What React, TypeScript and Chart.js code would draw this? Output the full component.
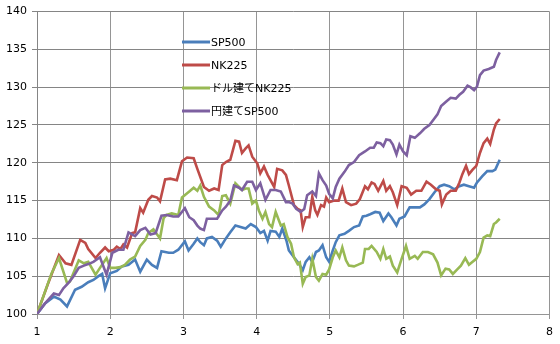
import React, { useEffect, useRef } from "react";
import { Chart, registerables } from "chart.js";

Chart.register(...registerables);

// ---- data ----
const seriesLabels = ["SP500", "NK225", "ドル建てNK225", "円建てSP500"];
const seriesColors = ["#4a7ebb", "#be4b48", "#98b954", "#7d60a0"];

const xTicks = [1, 2, 3, 4, 5, 6, 7, 8];
const yTicks = [100, 105, 110, 115, 120, 125, 130, 135, 140];

const sp500X = [1, 1.11, 1.23, 1.32, 1.41, 1.52, 1.61, 1.7, 1.77, 1.84, 1.89, 1.93, 2.0, 2.09, 2.16, 2.25, 2.34, 2.41, 2.5, 2.57, 2.64, 2.7, 2.8, 2.86, 2.93, 3.02,
  3.07, 3.14, 3.19, 3.23, 3.28, 3.32, 3.39, 3.46, 3.51, 3.58, 3.64, 3.71, 3.78, 3.85, 3.92, 3.99, 4.05, 4.1, 4.15, 4.19, 4.26, 4.31, 4.35, 4.41, 4.44, 4.51, 4.58, 4.63, 4.67, 4.72, 4.76, 4.81, 4.85, 4.9, 4.95, 4.99, 5.04, 5.08, 5.13, 5.2, 5.26, 5.33, 5.4,
  5.45, 5.5, 5.55, 5.62, 5.68, 5.73, 5.8, 5.84, 5.91, 5.95, 6.02, 6.09, 6.16, 6.23, 6.29, 6.36, 6.43, 6.5, 6.56, 6.63, 6.7, 6.77, 6.83, 6.9, 6.97, 7.01, 7.08, 7.15, 7.22, 7.26, 7.32];
const sp500Y = [100, 101.4, 102.3, 101.9, 101.0, 103.2, 103.6, 104.2, 104.5, 105.0, 105.3, 103.4, 105.4, 105.7, 106.3, 106.5, 107.2, 105.6, 107.2, 106.5, 106.1, 108.3, 108.1, 108.1, 108.5, 109.6,
  108.4, 109.3, 110.0, 109.5, 109.1, 110.0, 110.2, 109.7, 108.9, 110.0, 110.8, 111.7, 111.5, 111.3, 111.9, 111.5, 110.7, 111.0, 109.7, 111.0, 110.9, 110.2, 111.3, 109.6, 108.4, 107.5, 106.6, 105.8, 106.9, 107.5, 106.9, 108.2, 108.4, 109.1, 107.5, 106.9, 108.4, 109.5, 110.4, 110.6, 111.0, 111.5, 111.7,
  112.9, 113.0, 113.2, 113.5, 113.4, 112.3, 113.3, 112.8, 111.7, 112.6, 112.9, 114.1, 114.1, 114.1, 114.5, 115.2, 116.1, 116.9, 117.1, 116.9, 116.5, 116.9, 117.1, 116.9, 116.7, 117.4, 118.2, 118.9, 118.9, 119.1, 120.4];

const nk225X = [1, 1.15, 1.3, 1.39, 1.47, 1.59, 1.66, 1.7, 1.8, 1.86, 1.93, 1.98, 2.05, 2.09, 2.14, 2.18, 2.23, 2.3, 2.34, 2.41, 2.45, 2.52, 2.57, 2.64, 2.68, 2.75, 2.82, 2.91, 2.98, 3.05,
  3.14, 3.19, 3.28, 3.35, 3.42, 3.48, 3.53, 3.58, 3.64, 3.71, 3.76, 3.8, 3.85, 3.89, 3.94, 4.01, 4.05, 4.1, 4.15, 4.24, 4.28, 4.35, 4.4, 4.44, 4.51, 4.56, 4.6, 4.63, 4.67, 4.72, 4.76, 4.8, 4.83, 4.88, 4.92, 4.95, 4.99, 5.06, 5.12, 5.17, 5.22, 5.29, 5.36,
  5.41, 5.48, 5.52, 5.57, 5.61, 5.66, 5.73, 5.77, 5.82, 5.86, 5.92, 5.98, 6.05, 6.11, 6.18, 6.25, 6.32, 6.38, 6.45, 6.5, 6.53, 6.59, 6.65, 6.72, 6.77, 6.81, 6.86, 6.9, 6.95, 7.0, 7.05, 7.1, 7.15, 7.19, 7.24, 7.27, 7.32];
const nk225Y = [100, 104.0, 107.8, 106.7, 106.5, 109.8, 109.4, 108.6, 107.4, 108.1, 108.8, 108.3, 108.5, 108.9, 108.6, 109.2, 108.8, 110.7, 110.8, 114.0, 113.4, 115.1, 115.6, 115.4, 114.9, 117.8, 117.9, 117.7, 120.2, 120.7,
  120.6, 119.2, 116.8, 116.3, 116.6, 116.4, 119.7, 120.1, 120.4, 122.9, 122.8, 121.3, 121.9, 122.3, 120.8, 119.9, 118.6, 119.5, 118.4, 116.8, 119.2, 119.0, 118.4, 117.0, 114.4, 113.9, 113.7, 111.5, 112.8, 112.8, 115.5, 113.7, 113.1, 114.4, 114.2, 115.4, 114.8, 115.0, 115.0, 116.6, 114.8, 114.4, 114.6,
  115.2, 116.9, 116.5, 117.4, 117.2, 116.3, 117.6, 116.3, 116.9, 116.1, 114.4, 116.9, 116.7, 115.8, 116.3, 116.3, 117.5, 117.1, 116.5, 116.3, 114.5, 115.8, 116.3, 116.3, 117.4, 118.5, 119.6, 118.5, 119.1, 119.6, 121.3, 122.6, 123.2, 122.5, 124.4, 125.2, 125.8];

const usdNk225X = [1, 1.2, 1.3, 1.41, 1.45, 1.57, 1.64, 1.7, 1.8, 1.86, 1.95, 2.0, 2.07, 2.14, 2.2, 2.27, 2.34, 2.41, 2.48, 2.52, 2.59, 2.68, 2.73, 2.77, 2.84, 2.93, 2.98, 3.03,
  3.08, 3.14, 3.19, 3.23, 3.28, 3.35, 3.42, 3.48, 3.53, 3.58, 3.64, 3.71, 3.76, 3.8, 3.85, 3.89, 3.94, 3.99, 4.03, 4.08, 4.12, 4.17, 4.21, 4.26, 4.33, 4.37, 4.42, 4.47, 4.51, 4.56, 4.59, 4.63, 4.67, 4.72, 4.76, 4.81, 4.85, 4.9, 4.95, 4.99, 5.04, 5.08, 5.13, 5.17, 5.22, 5.26, 5.33, 5.38,
  5.45, 5.48, 5.53, 5.57, 5.64, 5.69, 5.73, 5.77, 5.82, 5.86, 5.92, 5.98, 6.04, 6.09, 6.16, 6.2, 6.27, 6.34, 6.41, 6.47, 6.52, 6.58, 6.63, 6.68, 6.74, 6.79, 6.85, 6.9, 6.95, 7.0, 7.05, 7.1, 7.15, 7.19, 7.24, 7.27, 7.32];
const usdNk225Y = [100, 105.4, 107.4, 104.1, 104.3, 107.1, 106.7, 106.9, 105.2, 106.1, 107.4, 106.1, 106.1, 106.2, 106.5, 107.2, 107.6, 109.0, 109.8, 110.7, 111.2, 110.0, 112.7, 113.1, 113.3, 113.1, 115.4, 115.8,
  116.2, 116.7, 116.3, 117.0, 115.5, 114.2, 113.7, 113.1, 115.6, 115.7, 114.6, 117.3, 116.8, 116.4, 116.6, 116.6, 114.6, 115.0, 113.7, 112.6, 113.5, 111.9, 111.5, 113.5, 111.7, 111.9, 110.2, 109.3, 107.5, 106.6, 106.8, 104.0, 104.9, 105.1, 107.3, 104.9, 104.4, 105.3, 105.2, 105.9, 107.5, 108.4, 107.5, 108.8, 107.1, 106.4, 106.3, 106.5,
  106.8, 108.6, 108.6, 109.0, 108.2, 107.3, 108.6, 107.3, 107.6, 106.4, 105.5, 107.3, 109.0, 107.3, 107.7, 107.3, 108.2, 108.2, 107.9, 106.8, 105.1, 106.0, 105.9, 105.3, 105.9, 106.4, 107.4, 106.5, 106.9, 107.3, 108.2, 110.1, 110.4, 110.3, 111.9, 112.1, 112.6];

const jpySp500X = [1, 1.11, 1.23, 1.3, 1.36, 1.43, 1.5, 1.57, 1.64, 1.7, 1.77, 1.86, 1.95, 2.03, 2.11, 2.18, 2.25, 2.34, 2.41, 2.48, 2.55, 2.62, 2.7, 2.77, 2.86, 2.93, 3.02,
  3.08, 3.14, 3.19, 3.23, 3.28, 3.32, 3.39, 3.46, 3.53, 3.58, 3.64, 3.69, 3.76, 3.8, 3.87, 3.94, 3.99, 4.05, 4.12, 4.19, 4.26, 4.33, 4.4, 4.44, 4.49, 4.54, 4.6, 4.65, 4.69, 4.76, 4.81, 4.85, 4.9, 4.95, 4.99, 5.04, 5.08, 5.13, 5.2, 5.26, 5.33, 5.4,
  5.48, 5.55, 5.6, 5.64, 5.69, 5.73, 5.77, 5.82, 5.86, 5.91, 5.95, 6.0, 6.05, 6.1, 6.16, 6.23, 6.29, 6.36, 6.43, 6.47, 6.52, 6.59, 6.65, 6.72, 6.77, 6.82, 6.88, 6.92, 6.97, 7.01, 7.05, 7.1, 7.17, 7.24, 7.27, 7.32];
const jpySp500Y = [100, 101.4, 102.7, 102.5, 103.4, 104.1, 105.0, 106.1, 106.4, 106.6, 106.9, 107.5, 105.2, 108.1, 108.5, 108.5, 110.8, 110.3, 111.1, 111.4, 110.5, 110.7, 113.0, 113.1, 112.9, 112.9, 114.0,
  112.8, 112.4, 111.7, 111.3, 111.1, 112.6, 112.6, 112.6, 113.7, 114.2, 115.0, 117.0, 116.7, 116.4, 117.5, 117.5, 116.4, 117.3, 115.1, 116.4, 116.4, 116.2, 114.8, 114.8, 114.6, 113.9, 113.5, 113.9, 115.7, 116.2, 115.6, 118.6, 117.7, 117.0, 115.9, 115.3, 116.8, 117.9, 118.8, 119.7, 120.1, 121.0,
  121.5, 122.0, 122.0, 122.7, 122.6, 122.2, 123.1, 123.0, 122.4, 121.1, 122.4, 121.5, 121.0, 123.5, 123.3, 123.9, 124.5, 125.0, 125.9, 126.4, 127.5, 128.1, 128.6, 128.5, 129.0, 129.4, 130.2, 130.0, 129.6, 130.1, 131.6, 132.2, 132.4, 132.7, 133.6, 134.6];

const seriesX = [sp500X, nk225X, usdNk225X, jpySp500X];
const seriesY = [sp500Y, nk225Y, usdNk225Y, jpySp500Y];

const FONT = "'DejaVu Sans', 'Noto Sans CJK JP', sans-serif";

const insideLegend = {
  id: "insideLegend",
  afterDatasetsDraw(chart: any) {
    const ctx = chart.ctx;
    ctx.save();
    chart.data.datasets.forEach((ds: any, i: number) => {
      const y = 42 + i * 23;
      ctx.strokeStyle = ds.borderColor;
      ctx.lineWidth = 3;
      ctx.lineCap = "butt";
      ctx.beginPath();
      ctx.moveTo(182, y);
      ctx.lineTo(210, y);
      ctx.stroke();
      ctx.fillStyle = "#000";
      ctx.font = `11px ${FONT}`;
      ctx.textBaseline = "middle";
      ctx.textAlign = "left";
      ctx.fillText(ds.label, 211, y + 1);
    });
    ctx.restore();
  },
};

export default function App() {
  const ref = useRef<HTMLCanvasElement | null>(null);

  useEffect(() => {
    if (!ref.current) return;
    const datasets = seriesLabels.map((label, s) => ({
      label,
      data: seriesX[s].map((x, i) => ({ x, y: seriesY[s][i] })),
      borderColor: seriesColors[s],
      backgroundColor: seriesColors[s],
      borderWidth: 2.6,
      pointRadius: 0,
      tension: 0,
      fill: false,
      order: 3 - s,
    }));
    const chart = new Chart(ref.current, {
      type: "line",
      data: { datasets },
      options: {
        animation: false,
        responsive: false,
        devicePixelRatio: 1,
        layout: { padding: { top: 10, right: 10, left: 0, bottom: 0 } },
        plugins: { legend: { display: false }, tooltip: { enabled: false } },
        scales: {
          x: {
            type: "linear",
            min: xTicks[0],
            max: xTicks[xTicks.length - 1],
            afterBuildTicks: (scale: any) => {
              scale.ticks = xTicks.map((v) => ({ value: v }));
            },
            afterFit: (scale: any) => {
              scale.height = 30;
            },
            ticks: { color: "#000", font: { family: FONT, size: 11 }, padding: 7, maxRotation: 0 },
            grid: { color: "#959595", tickLength: 5, lineWidth: 1 },
            border: { color: "#959595" },
          },
          y: {
            type: "linear",
            min: yTicks[0],
            max: yTicks[yTicks.length - 1],
            afterBuildTicks: (scale: any) => {
              scale.ticks = yTicks.map((v) => ({ value: v }));
            },
            afterFit: (scale: any) => {
              scale.width = 37;
            },
            ticks: { color: "#000", font: { family: FONT, size: 11 }, padding: 5 },
            grid: { color: "#858585", tickLength: 5, lineWidth: 1 },
            border: { color: "#858585" },
          },
        },
      },
      plugins: [insideLegend],
    });
    return () => chart.destroy();
  }, []);

  return (
    <div style={{ position: "absolute", left: 0, top: 0, width: 560, height: 344, background: "#fff" }}>
      <canvas ref={ref} width={560} height={344} style={{ display: "block" }} />
    </div>
  );
}
